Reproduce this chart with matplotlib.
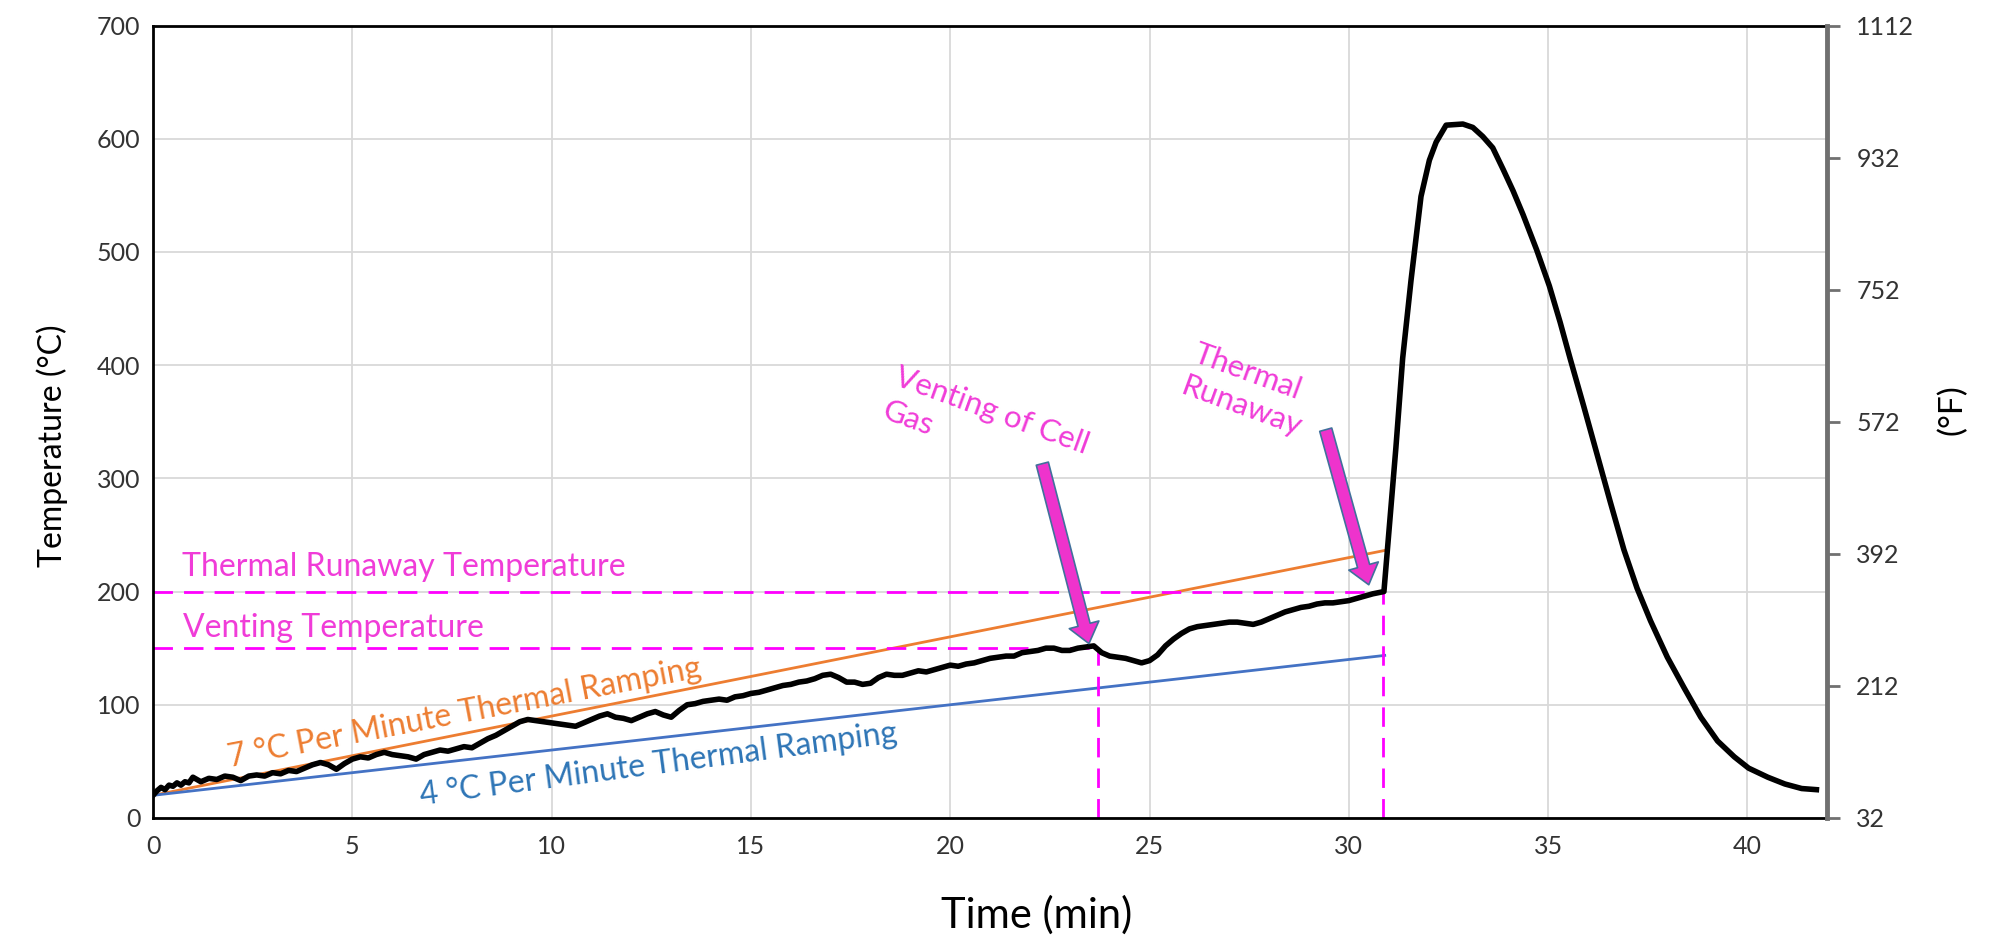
import matplotlib.pyplot as plt

# black curve, cell temperature (°C) vs time (min)
time_min = [0.0, 0.1, 0.2, 0.3, 0.4, 0.5, 0.6, 0.7, 0.8, 0.9, 1.0, 1.1, 1.2, 1.4, 1.6, 1.8,
            2.0, 2.2, 2.4, 2.6, 2.8, 3.0, 3.2, 3.4, 3.6, 3.8, 4.0, 4.2, 4.4, 4.6, 4.8,
            5.0, 5.2, 5.4, 5.6, 5.8, 6.0, 6.2, 6.4, 6.6, 6.8, 7.0, 7.2, 7.4, 7.6, 7.8,
            8.0, 8.2, 8.4, 8.6, 8.8, 9.0, 9.2, 9.4, 9.6, 9.8, 10.0, 10.2, 10.4, 10.6, 10.8,
            11.0, 11.2, 11.4, 11.6, 11.8, 12.0, 12.2, 12.4, 12.6, 12.8, 13.0, 13.2, 13.4,
            13.6, 13.8, 14.0, 14.2, 14.4, 14.6, 14.8, 15.0, 15.2, 15.4, 15.6, 15.8, 16.0,
            16.2, 16.4, 16.6, 16.8, 17.0, 17.2, 17.4, 17.6, 17.8, 18.0, 18.2, 18.4, 18.6,
            18.8, 19.0, 19.2, 19.4, 19.6, 19.8, 20.0, 20.2, 20.4, 20.6, 20.8, 21.0, 21.2,
            21.4, 21.6, 21.8, 22.0, 22.2, 22.4, 22.6, 22.8, 23.0, 23.2, 23.4, 23.6, 23.8,
            24.0, 24.2, 24.4, 24.6, 24.8, 25.0, 25.2, 25.4, 25.6, 25.8, 26.0, 26.2, 26.4,
            26.6, 26.8, 27.0, 27.2, 27.4, 27.6, 27.8, 28.0, 28.2, 28.4, 28.6, 28.8, 29.0,
            29.2, 29.4, 29.6, 29.8, 30.0, 30.2, 30.4, 30.6, 30.88,
            31.18, 31.35, 31.56, 31.81, 32.02, 32.19, 32.44, 32.86, 33.11, 33.36, 33.61,
            33.87, 34.12, 34.37, 34.71, 35.03, 35.30, 35.55, 35.89, 36.22, 36.56, 36.90,
            37.23, 37.57, 37.99, 38.41, 38.83, 39.25, 39.67, 40.03, 40.51, 40.94, 41.36, 41.73]
temp_c = [20, 24, 27, 25, 29, 28, 31, 29, 32, 31, 36, 34, 32, 35, 34, 37,
          36, 33, 37, 38, 37, 40, 39, 42, 41, 44, 47, 49, 47, 43, 48,
          52, 54, 53, 56, 58, 56, 55, 54, 52, 56, 58, 60, 59, 61, 63,
          62, 66, 70, 73, 77, 81, 85, 87, 86, 85, 84, 83, 82, 81, 84,
          87, 90, 92, 89, 88, 86, 89, 92, 94, 91, 89, 95, 100,
          101, 103, 104, 105, 104, 107, 108, 110, 111, 113, 115, 117, 118,
          120, 121, 123, 126, 127, 124, 120, 120, 118, 119, 124, 127, 126,
          126, 128, 130, 129, 131, 133, 135, 134, 136, 137, 139, 141, 142,
          143, 143, 146, 147, 148, 150, 150, 148, 148, 150, 151, 152, 146,
          143, 142, 141, 139, 137, 139, 144, 152, 158, 163, 167, 169, 170,
          171, 172, 173, 173, 172, 171, 173, 176, 179, 182, 184, 186, 187,
          189, 190, 190, 191, 192, 194, 196, 198, 200,
          327, 406, 475, 549, 581, 597, 612, 613, 610, 602, 592,
          573, 554, 533, 502, 470, 438, 406, 364, 322, 279, 237,
          203, 174, 142, 115, 89, 68, 54, 44, 36, 30, 26, 25]

# ramp lines (°C/min) and start temperature
ramp_start = 20
ramp_end_time = 30.9
ramp_rates = [7, 4]
ramp_colors = ['#ED7D31', '#4472C4']

vent_temp = 150
vent_time = 23.7
runaway_temp = 200
runaway_time = 30.85

f_ticks = [32, 212, 392, 572, 752, 932, 1112]

magenta = '#FF00FF'
pink = '#F03CD8'
plt.rcParams['font.family'] = ['Lato', 'DejaVu Sans']

fig = plt.figure(figsize=(19.98, 9.39), dpi=100)
ax = fig.add_axes([0.0766, 0.1289, 0.8379, 0.8439])

ax.grid(True, color='#D9D9D9', lw=1.3)
ax.set_axisbelow(True)

for rate, col in zip(ramp_rates, ramp_colors):
    ax.plot([0, ramp_end_time], [ramp_start, ramp_start + rate * ramp_end_time], color=col, lw=2)

dash = (0, (7, 4))
ax.plot([0, runaway_time], [runaway_temp, runaway_temp], color=magenta, lw=2, ls=dash)
ax.plot([0, vent_time], [vent_temp, vent_temp], color=magenta, lw=2, ls=dash)
ax.plot([vent_time, vent_time], [0, vent_temp], color=magenta, lw=2, ls=dash)
ax.plot([runaway_time, runaway_time], [0, runaway_temp], color=magenta, lw=2, ls=dash)

ax.plot(time_min, temp_c, color='black', lw=4, solid_joinstyle='round')

ax.set_xlim(0, 42)
ax.set_ylim(0, 700)
ax.set_xticks(range(0, 41, 5))
ax.set_yticks(range(0, 701, 100))
ax.tick_params(length=0, labelsize=18, colors='#333333')
ax.tick_params(axis='y', pad=9)
ax.tick_params(axis='x', pad=12)
for s in ['left', 'bottom', 'top']:
    ax.spines[s].set_color('black')
    ax.spines[s].set_linewidth(2)
ax.spines['right'].set_visible(False)

ax.set_xlabel('Time (min)', fontsize=30, va='center')
ax.xaxis.set_label_coords(0.528, -0.122)
ax.set_ylabel('Temperature (°C)', fontsize=23, va='center')
ax.yaxis.set_label_coords(-0.06, 0.47)

ax2 = ax.twinx()
ax2.set_ylim(32, 1112)
ax2.set_yticks(f_ticks)
ax2.tick_params(length=9, width=2, color='#707070', labelsize=18, labelcolor='#333333', pad=12)
ax2.spines['right'].set_color('#707070')
ax2.spines['right'].set_linewidth(3.5)
for s in ['left', 'bottom', 'top']:
    ax2.spines[s].set_visible(False)
ax2.set_ylabel('(°F)', fontsize=24, va='center')
ax2.yaxis.set_label_coords(1.075, 0.515)

# text labels
ax.text(0.72, 214, 'Thermal Runaway Temperature', color=pink, fontsize=23)
ax.text(0.74, 160, 'Venting Temperature', color=pink, fontsize=23)
ax.text(1.92, 45, '7 °C Per Minute Thermal Ramping', color='#ED7D31', fontsize=23,
        rotation=10.8, rotation_mode='anchor')
ax.text(6.73, 11, '4 °C Per Minute Thermal Ramping', color='#2E75B6', fontsize=23,
        rotation=7.5, rotation_mode='anchor')
ax.text(18.75, 402, 'Venting of Cell\nGas', color=pink, fontsize=22.5, ha='left', va='top',
        rotation=-20, rotation_mode='anchor', linespacing=1.35)
ax.text(26.24, 423, 'Thermal\nRunaway', color=pink, fontsize=22.5, ha='left', va='top',
        rotation=-20, rotation_mode='anchor', linespacing=1.3)

arrow_style = 'simple,head_width=1.1,head_length=0.7,tail_width=0.45'
ax.annotate('', xy=(23.48, 154), xytext=(22.31, 313),
            arrowprops=dict(arrowstyle=arrow_style, mutation_scale=20, fc='#EE33CC',
                            ec='#41719C', lw=1.2, shrinkA=0, shrinkB=0))
ax.annotate('', xy=(30.5, 206), xytext=(29.42, 343),
            arrowprops=dict(arrowstyle=arrow_style, mutation_scale=20, fc='#EE33CC',
                            ec='#41719C', lw=1.2, shrinkA=0, shrinkB=0))

fig.savefig('out.png', dpi=100)
